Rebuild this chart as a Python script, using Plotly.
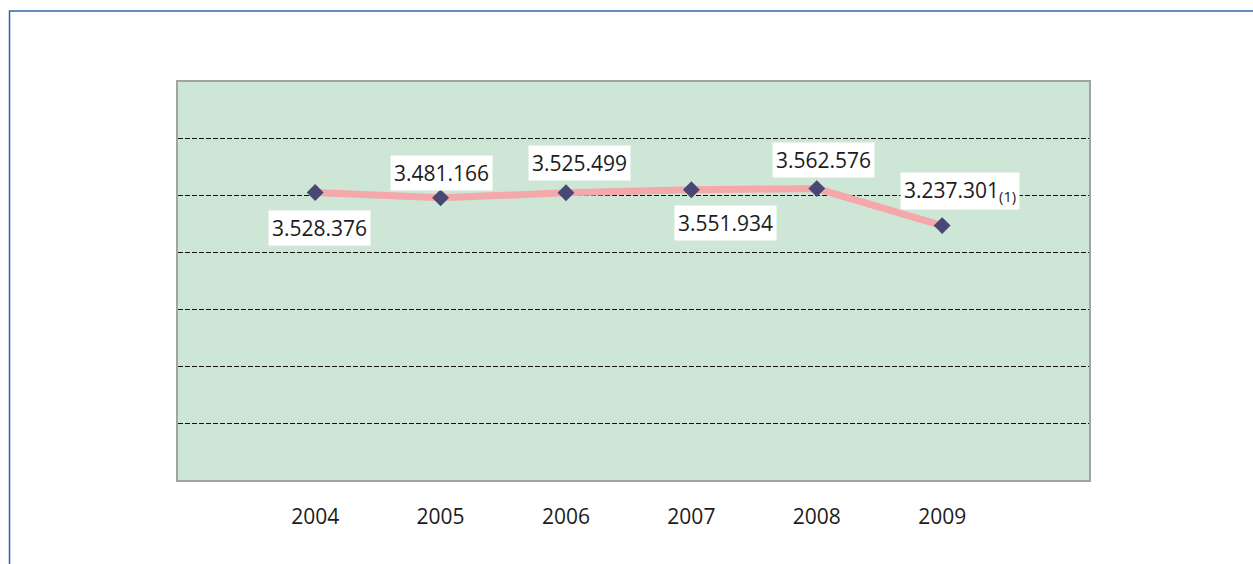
import plotly.graph_objects as go

# ---- data ----
years = [2004, 2005, 2006, 2007, 2008, 2009]
values = [3528376, 3481166, 3525499, 3551934, 3562576, 3237301]
value_labels = ["3.528.376", "3.481.166", "3.525.499", "3.551.934", "3.562.576",
                "3.237.301<sub>(1)</sub>"]
tick_labels = ["2004", "2005", "2006", "2007", "2008", "2009"]

# label offsets (px) relative to each point
label_dx = [4, 1, 14, 34, 7, 18]
label_dy = [-36, 25, 30, -33, 29, 35]

W, H = 1253, 564
L, R, T, B = 178, 164, 82, 84
pw, ph = W - L - R, H - T - B

FONT = "Open Sans"
TXT = "#1e1b1c"

fig = go.Figure()
fig.add_trace(go.Scatter(
    x=years, y=values, mode="lines+markers",
    line=dict(color="#f4a8aa", width=7),
    marker=dict(symbol="diamond", size=13, color="#4b4775"),
    hoverinfo="skip", showlegend=False,
))

for x, y, t, dx, dy in zip(years, values, value_labels, label_dx, label_dy):
    fig.add_annotation(
        x=x, y=y, xref="x", yref="y", text=t, showarrow=False,
        xshift=dx, yshift=dy, bgcolor="white", borderpad=3,
        font=dict(family=FONT, size=21, color=TXT),
    )

def px2paper_x(p):
    return (p - L) / pw

def px2paper_y(p):
    return (H - B - p) / ph

# outer blue frame (top + left edges visible)
fig.add_shape(type="rect", xref="paper", yref="paper",
              x0=px2paper_x(9.5), x1=px2paper_x(1300),
              y0=px2paper_y(620), y1=px2paper_y(11),
              line=dict(color="#2f66aa", width=1.5), layer="above")

fig.update_layout(
    width=W, height=H,
    margin=dict(l=L, r=R, t=T, b=B, pad=0),
    paper_bgcolor="white", plot_bgcolor="#cde6d6",
    font=dict(family=FONT, size=21, color=TXT),
    xaxis=dict(
        range=[2002.906, 2010.171], tickvals=years, ticktext=tick_labels,
        showgrid=False, zeroline=False,
        showline=True, mirror=True, linecolor="#a3a3a3", linewidth=2,
        ticks="", ticklabelstandoff=17,
        tickfont=dict(family=FONT, size=21, color=TXT),
    ),
    yaxis=dict(
        range=[1000000, 4500000], dtick=500000, tick0=0,
        showgrid=True, gridcolor="#111111", gridwidth=1, griddash="5px,2px",
        zeroline=False, showticklabels=False,
        showline=True, mirror=True, linecolor="#a3a3a3", linewidth=2,
    ),
)

fig.write_html("out.html", config={"displayModeBar": False},
               post_script="document.body.style.margin='0';document.body.style.overflow='hidden';")
